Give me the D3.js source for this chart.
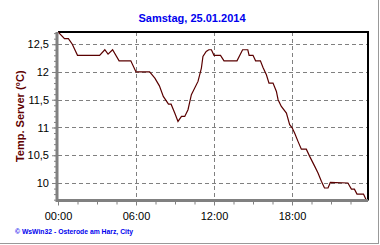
<!DOCTYPE html>
<html>
<head>
<meta charset="utf-8">
<script src="https://cdn.jsdelivr.net/npm/d3@7"></script>
<style>
  body { margin: 0; background: #fff; }
  svg { display: block; font-family: Arial, "Liberation Sans", sans-serif; }
</style>
</head>
<body>
<div id="chartArea"></div>
<script>
const w = 380;
const h = 245;
const plot = {left: 58, top: 32, right: 368, bottom: 200.5};

// readings, hours since midnight and temperature in °C
const hours = [0, 0.5, 0.8, 1.1, 1.5, 3.2, 3.6, 3.85, 4.2, 4.7, 5.6, 6.0, 7.05, 7.45, 7.8, 8.1, 8.5, 8.7, 8.98, 9.23,
    9.5, 9.75, 10.0, 10.26, 10.77, 11.03, 11.15, 11.4, 11.6, 11.8, 12.0, 12.5, 12.77, 13.77, 14.2, 14.6, 14.7, 15.0,
    15.2, 15.57, 15.77, 16.03, 16.23, 16.54, 16.8, 16.93, 17.18, 17.57, 17.82, 18.0, 18.2, 18.46, 18.72, 19.1, 19.36,
    19.75, 20.0, 20.26, 20.5, 20.77, 20.95, 22.3, 22.57, 22.8, 23.0, 23.5, 23.7];
const temps = [12.72, 12.6, 12.6, 12.5, 12.3, 12.3, 12.4, 12.32, 12.4, 12.2, 12.2, 12.0, 12.0, 11.89, 11.75, 11.56, 11.42, 11.42, 11.26, 11.11,
    11.2, 11.2, 11.32, 11.59, 11.83, 12.07, 12.28, 12.37, 12.4, 12.4, 12.3, 12.3, 12.2, 12.2, 12.4, 12.4, 12.3, 12.3,
    12.2, 12.2, 12.08, 11.95, 11.8, 11.8, 11.65, 11.5, 11.38, 11.26, 11.05, 11.0, 10.9, 10.75, 10.61, 10.61, 10.48,
    10.3, 10.18, 10.03, 9.91, 9.91, 10.01, 10.0, 9.89, 9.89, 9.8, 9.8, 9.7];

const yTicks = [10, 10.5, 11, 11.5, 12, 12.5];
const xTicks = [0, 6, 12, 18];
const xLabels = ["00:00", "06:00", "12:00", "18:00"];

const title = "Samstag, 25.01.2014";
const yTitle = "Temp. Server (°C)";
const footer = "© WsWin32 - Osterode am Harz, City";

const svg = d3.select("#chartArea")
    .append("svg")
    .attr("width", w)
    .attr("height", h);

svg.append("rect")
    .attr("width", w)
    .attr("height", h)
    .attr("fill", "#fff");

// outer frame (only bottom + right are visible)
svg.append("line")
    .attr("x1", 0).attr("x2", 379)
    .attr("y1", 243.5).attr("y2", 243.5)
    .attr("stroke", "#999");
svg.append("line")
    .attr("x1", 378.5).attr("x2", 378.5)
    .attr("y1", 0).attr("y2", 244)
    .attr("stroke", "#999");

let x = d3.scaleLinear()
    .domain([0, 24])
    .range([plot.left, plot.left + 24 * 13]);

let y = d3.scaleLinear()
    .domain([9.685, 12.72])
    .range([plot.bottom, plot.top]);

// grid
svg.append("g")
    .selectAll("line")
    .data(yTicks)
    .enter()
    .append("line")
    .attr("x1", plot.left)
    .attr("x2", plot.right)
    .attr("y1", d => Math.round(y(d)) + 0.5)
    .attr("y2", d => Math.round(y(d)) + 0.5)
    .attr("stroke", "#808080")
    .attr("stroke-dasharray", "4,3");

svg.append("g")
    .selectAll("line")
    .data(xTicks.slice(1))
    .enter()
    .append("line")
    .attr("x1", d => Math.round(x(d)) + 0.5)
    .attr("x2", d => Math.round(x(d)) + 0.5)
    .attr("y1", plot.top)
    .attr("y2", plot.bottom)
    .attr("stroke", "#808080")
    .attr("stroke-dasharray", "4,3");

// top + right border
svg.append("path")
    .attr("d", `M${plot.left},${plot.top} H${plot.right} V${plot.bottom}`)
    .attr("fill", "none")
    .attr("stroke", "#000")
    .attr("stroke-width", 2);

// curve
svg.append("clipPath")
    .attr("id", "clip")
    .append("rect")
    .attr("x", plot.left)
    .attr("y", plot.top - 1)
    .attr("width", plot.right - plot.left)
    .attr("height", plot.bottom - plot.top + 1);

let line = d3.line()
    .x(d => x(d[0]))
    .y(d => y(d[1]));

svg.append("path")
    .datum(d3.zip(hours, temps))
    .attr("clip-path", "url(#clip)")
    .attr("d", line)
    .attr("fill", "none")
    .attr("stroke", "#5a0000")
    .attr("stroke-width", 1.2);

// y axis
let yMinor = d3.axisLeft(y)
    .tickValues(d3.range(97, 128).map(v => v / 10))
    .tickSize(3)
    .tickFormat("");

let yAxis = d3.axisLeft(y)
    .tickValues(yTicks)
    .tickSize(5)
    .tickPadding(3)
    .tickFormat(d => d3.format("~f")(d).replace(".", ","));

svg.append("g")
    .attr("transform", `translate(${plot.left - 1},0)`)
    .call(yMinor)
    .call(g => g.select(".domain").remove())
    .selectAll("line").attr("stroke", "#808080");

svg.append("g")
    .attr("transform", `translate(${plot.left - 1},0)`)
    .call(yAxis)
    .call(g => g.select(".domain").remove())
    .call(g => g.selectAll("line").attr("stroke", "#808080"))
    .call(g => g.selectAll("text").attr("fill", "#000").attr("font-size", 11).attr("font-family", "Arial, 'Liberation Sans'"));

// x axis
let xMinor = d3.axisBottom(x)
    .tickValues(d3.range(0, 24, 1.5))
    .tickSize(4)
    .tickFormat("");

let xAxis = d3.axisBottom(x)
    .tickValues(xTicks)
    .tickSize(5)
    .tickPadding(7)
    .tickFormat((d, i) => xLabels[i]);

svg.append("g")
    .attr("transform", `translate(0,${plot.bottom})`)
    .call(xMinor)
    .call(g => g.select(".domain").remove())
    .selectAll("line").attr("stroke", "#808080");

svg.append("g")
    .attr("transform", `translate(0,${plot.bottom})`)
    .call(xAxis)
    .call(g => g.select(".domain").remove())
    .call(g => g.selectAll("line").attr("stroke", "#808080"))
    .call(g => g.selectAll("text").attr("fill", "#000").attr("font-size", 11).attr("font-family", "Arial, 'Liberation Sans'"));

// thick gray axis lines
svg.append("path")
    .attr("d", `M${plot.left - 1},${plot.top} V${plot.bottom} H${plot.right}`)
    .attr("fill", "none")
    .attr("stroke", "#808080")
    .attr("stroke-width", 3);

// texts
svg.append("text")
    .attr("x", 192)
    .attr("y", 21.5)
    .attr("text-anchor", "middle")
    .attr("font-size", 11)
    .attr("font-weight", "bold")
    .attr("fill", "#0000ee")
    .text(title);

svg.append("text")
    .attr("transform", `translate(23.5,${(plot.top + plot.bottom) / 2}) rotate(-90)`)
    .attr("text-anchor", "middle")
    .attr("font-size", 11)
    .attr("font-weight", "bold")
    .attr("fill", "#600000")
    .text(yTitle);

svg.append("text")
    .attr("x", 15)
    .attr("y", 233.5)
    .attr("font-size", 7)
    .attr("font-weight", "bold")
    .attr("fill", "#0000ee")
    .attr("textLength", 118)
    .attr("lengthAdjust", "spacingAndGlyphs")
    .text(footer);
</script>
</body>
</html>
